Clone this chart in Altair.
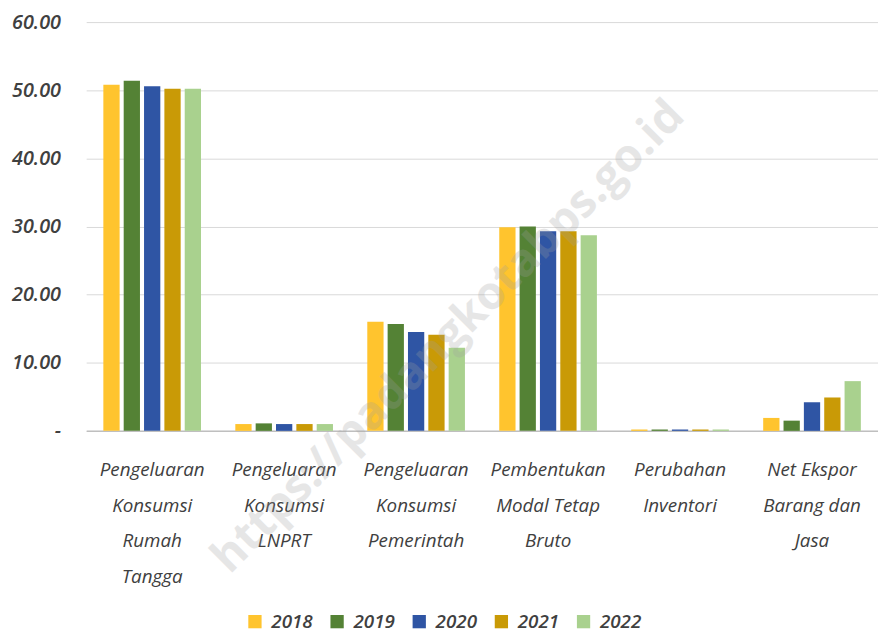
import altair as alt
import pandas as pd

categories = [
    "Pengeluaran|Konsumsi|Rumah|Tangga",
    "Pengeluaran|Konsumsi|LNPRT",
    "Pengeluaran|Konsumsi|Pemerintah",
    "Pembentukan|Modal Tetap|Bruto",
    "Perubahan|Inventori",
    "Net Ekspor|Barang dan|Jasa",
]
years = ["2018", "2019", "2020", "2021", "2022"]
v2018 = [50.8, 1.0, 16.0, 29.9, 0.2, 1.9]
v2019 = [51.4, 1.1, 15.7, 30.0, 0.2, 1.5]
v2020 = [50.6, 1.0, 14.5, 29.3, 0.2, 4.2]
v2021 = [50.2, 1.0, 14.1, 29.3, 0.2, 4.9]
v2022 = [50.2, 1.0, 12.2, 28.7, 0.2, 7.3]
colors = ["#FFC42E", "#548235", "#2F55A4", "#C99A06", "#A9D18E"]

rows = []
for y, vals in zip(years, [v2018, v2019, v2020, v2021, v2022]):
    for c, v in zip(categories, vals):
        rows.append({"Kategori": c, "Tahun": y, "Nilai": v})
df = pd.DataFrame(rows)

FONT = "Open Sans"
TXT = "#404040"

bars = alt.Chart(df).mark_bar().encode(
    x=alt.X("Kategori:N", sort=categories,
            scale=alt.Scale(paddingInner=0.26, paddingOuter=0.13),
            axis=alt.Axis(title=None, labelAngle=0, labelExpr="split(datum.label, '|')",
                          labelFont=FONT, labelFontSize=19, labelFontStyle="italic",
                          labelFontWeight=500,
                          labelColor=TXT, labelLineHeight=36, labelPadding=30,
                          ticks=False, domainColor="#bfbfbf", domainWidth=1.5,
                          labelLimit=200, labelBaseline="top")),
    xOffset=alt.XOffset("Tahun:N", sort=years, scale=alt.Scale(paddingInner=0.2)),
    y=alt.Y("Nilai:Q", scale=alt.Scale(domain=[0, 60], nice=False),
            axis=alt.Axis(title=None, values=[0, 10, 20, 30, 40, 50, 60],
                          labelExpr="datum.value == 0 ? '-' : format(datum.value, '.2f')",
                          labelFont=FONT, labelFontSize=20, labelFontStyle="italic",
                          labelFontWeight=600, labelColor=TXT, labelPadding=26,
                          ticks=False, domain=False, gridColor="#d9d9d9")),
    color=alt.Color("Tahun:N", sort=years,
                    scale=alt.Scale(domain=years, range=colors),
                    legend=alt.Legend(title=None, orient="none", direction="horizontal",
                                      legendX=161, legendY=596,
                                      symbolType="square", symbolSize=180,
                                      symbolStrokeWidth=0,
                                      labelFont=FONT, labelFontSize=19,
                                      labelFontStyle="italic", labelFontWeight=600,
                                      labelColor=TXT, columnPadding=15, labelOffset=7)),
)

wm = alt.Chart(pd.DataFrame({"t": ["https://padangkotabps.go.id"]})).mark_text(
    angle=315, fontSize=46, font=FONT, fontWeight="bold", color="#a0a0a0", opacity=0.25,
    align="center", baseline="middle"
).encode(text="t:N", x=alt.value(366), y=alt.value(318))

chart = alt.layer(bars, wm).properties(
    width=800, height=413,
    autosize=alt.AutoSizeParams(type="none"),
    padding={"left": 79, "top": 11, "right": 0, "bottom": 203},
).configure_view(stroke=None)
chart.save("out.html", embed_options={"renderer": "svg", "actions": False})
